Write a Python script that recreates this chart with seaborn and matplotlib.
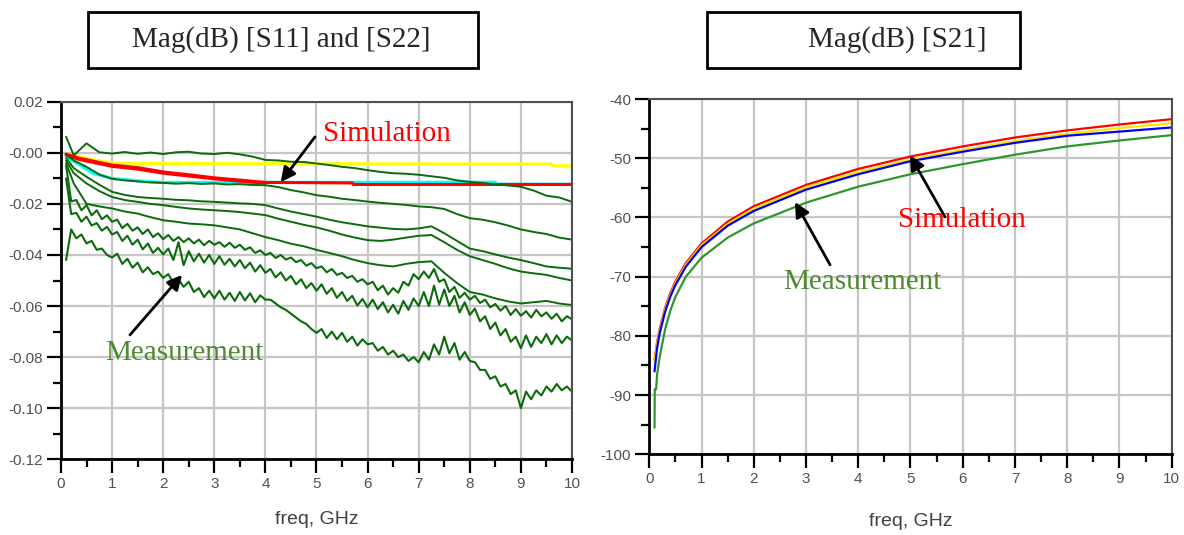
import matplotlib
matplotlib.use("Agg")
import matplotlib.pyplot as plt
from matplotlib.patches import Rectangle
from matplotlib.ticker import MultipleLocator
import seaborn as sns

# ---------------- left panel : Mag(dB) S11 / S22 ----------------
# sampling grids of the measured traces (GHz)
freq_coarse = [0.1] + [0.25 * i for i in range(1, 41)]
freq_fine = [round(0.1 * i, 1) for i in range(1, 101)]

meas_1 = [0.0063, -0.0010, 0.0037, 0.0002, -0.0003, 0.0003, -0.0004, 0.0001, -0.0005, 0.0002,
          0.0004, -0.0003, -0.0005, 0.0000, -0.0006, -0.0015, -0.0028, -0.0030, -0.0035, -0.0036,
          -0.0042, -0.0048, -0.0055, -0.0060, -0.0068, -0.0075, -0.0080, -0.0082, -0.0086, -0.0092,
          -0.0098, -0.0108, -0.0114, -0.0118, -0.0124, -0.0128, -0.0133, -0.0148, -0.0168, -0.0175,
          -0.0192]
meas_2 = [-0.0008, -0.0030, -0.0055, -0.0085, -0.0102, -0.0108, -0.0112, -0.0116, -0.0118, -0.0121,
          -0.0119, -0.0122, -0.0120, -0.0124, -0.0123, -0.0126, -0.0127, -0.0134, -0.0146, -0.0155,
          -0.0166, -0.0172, -0.0180, -0.0185, -0.0191, -0.0196, -0.0200, -0.0204, -0.0210, -0.0213,
          -0.0220, -0.0240, -0.0256, -0.0262, -0.0272, -0.0285, -0.0300, -0.0310, -0.0318, -0.0332,
          -0.0340]
meas_3 = [-0.0020, -0.0060, -0.0094, -0.0125, -0.0153, -0.0165, -0.0173, -0.0177, -0.0180, -0.0184,
          -0.0186, -0.0190, -0.0192, -0.0195, -0.0198, -0.0200, -0.0205, -0.0218, -0.0230, -0.0240,
          -0.0250, -0.0262, -0.0272, -0.0280, -0.0288, -0.0293, -0.0298, -0.0300, -0.0296, -0.0288,
          -0.0315, -0.0345, -0.0375, -0.0385, -0.0398, -0.0410, -0.0420, -0.0432, -0.0445, -0.0450,
          -0.0454]
meas_4 = [-0.0030, -0.0080, -0.0120, -0.0150, -0.0173, -0.0185, -0.0192, -0.0200, -0.0205, -0.0212,
          -0.0218, -0.0222, -0.0225, -0.0228, -0.0232, -0.0238, -0.0244, -0.0258, -0.0270, -0.0282,
          -0.0292, -0.0305, -0.0320, -0.0332, -0.0342, -0.0345, -0.0340, -0.0332, -0.0325, -0.0322,
          -0.0350, -0.0380, -0.0405, -0.0420, -0.0435, -0.0452, -0.0465, -0.0472, -0.0478, -0.0490,
          -0.0500]
meas_5 = [-0.0040, -0.0120, -0.0200, -0.0210, -0.0218, -0.0230, -0.0238, -0.0252, -0.0264, -0.0270,
          -0.0277, -0.0280, -0.0284, -0.0292, -0.0300, -0.0315, -0.0330, -0.0342, -0.0356, -0.0366,
          -0.0380, -0.0392, -0.0405, -0.0420, -0.0432, -0.0440, -0.0445, -0.0435, -0.0428, -0.0425,
          -0.0470, -0.0510, -0.0545, -0.0555, -0.0570, -0.0582, -0.0590, -0.0585, -0.0580, -0.0590,
          -0.0596]
meas_6 = [-0.0050, -0.0190, -0.0185, -0.0225, -0.0205, -0.0245, -0.0225, -0.0260, -0.0245, -0.0270,
          -0.0262, -0.0295, -0.0278, -0.0305, -0.0292, -0.0318, -0.0300, -0.0330, -0.0315, -0.0338,
          -0.0322, -0.0345, -0.0330, -0.0350, -0.0335, -0.0355, -0.0340, -0.0362, -0.0345, -0.0360,
          -0.0350, -0.0368, -0.0352, -0.0372, -0.0360, -0.0380, -0.0370, -0.0392, -0.0382, -0.0400,
          -0.0392, -0.0412, -0.0400, -0.0418, -0.0410, -0.0428, -0.0420, -0.0442, -0.0432, -0.0452,
          -0.0445, -0.0468, -0.0455, -0.0478, -0.0470, -0.0490, -0.0482, -0.0505, -0.0495, -0.0515,
          -0.0505, -0.0538, -0.0520, -0.0555, -0.0530, -0.0548, -0.0505, -0.0520, -0.0475, -0.0495,
          -0.0465, -0.0490, -0.0455, -0.0505, -0.0495, -0.0545, -0.0525, -0.0568, -0.0548, -0.0575,
          -0.0560, -0.0588, -0.0575, -0.0605, -0.0592, -0.0618, -0.0600, -0.0635, -0.0612, -0.0638,
          -0.0620, -0.0645, -0.0615, -0.0640, -0.0625, -0.0650, -0.0630, -0.0660, -0.0640, -0.0652]
meas_7 = [-0.0100, -0.0240, -0.0235, -0.0270, -0.0250, -0.0285, -0.0275, -0.0305, -0.0290, -0.0320,
          -0.0310, -0.0345, -0.0325, -0.0360, -0.0340, -0.0378, -0.0355, -0.0392, -0.0372, -0.0398,
          -0.0375, -0.0420, -0.0350, -0.0440, -0.0385, -0.0425, -0.0395, -0.0430, -0.0400, -0.0435,
          -0.0405, -0.0438, -0.0415, -0.0445, -0.0420, -0.0452, -0.0430, -0.0465, -0.0440, -0.0470,
          -0.0455, -0.0488, -0.0468, -0.0500, -0.0482, -0.0515, -0.0495, -0.0530, -0.0510, -0.0540,
          -0.0515, -0.0552, -0.0530, -0.0568, -0.0545, -0.0580, -0.0560, -0.0598, -0.0572, -0.0605,
          -0.0575, -0.0612, -0.0585, -0.0625, -0.0595, -0.0630, -0.0580, -0.0615, -0.0570, -0.0600,
          -0.0545, -0.0600, -0.0520, -0.0595, -0.0535, -0.0600, -0.0560, -0.0625, -0.0585, -0.0635,
          -0.0610, -0.0660, -0.0640, -0.0690, -0.0665, -0.0715, -0.0690, -0.0740, -0.0720, -0.0765,
          -0.0715, -0.0760, -0.0720, -0.0745, -0.0710, -0.0750, -0.0715, -0.0745, -0.0720, -0.0735]
meas_8 = [-0.0420, -0.0300, -0.0335, -0.0320, -0.0355, -0.0345, -0.0380, -0.0375, -0.0400, -0.0410,
          -0.0395, -0.0435, -0.0415, -0.0450, -0.0430, -0.0468, -0.0448, -0.0475, -0.0465, -0.0490,
          -0.0475, -0.0510, -0.0495, -0.0525, -0.0505, -0.0545, -0.0530, -0.0565, -0.0540, -0.0570,
          -0.0540, -0.0575, -0.0548, -0.0580, -0.0545, -0.0578, -0.0550, -0.0585, -0.0558, -0.0575,
          -0.0575, -0.0590, -0.0605, -0.0615, -0.0630, -0.0645, -0.0660, -0.0670, -0.0690, -0.0705,
          -0.0690, -0.0725, -0.0700, -0.0730, -0.0705, -0.0740, -0.0720, -0.0755, -0.0730, -0.0750,
          -0.0745, -0.0775, -0.0760, -0.0790, -0.0775, -0.0800, -0.0790, -0.0815, -0.0800, -0.0820,
          -0.0780, -0.0810, -0.0750, -0.0790, -0.0720, -0.0785, -0.0745, -0.0810, -0.0780, -0.0815,
          -0.0820, -0.0850, -0.0850, -0.0885, -0.0875, -0.0915, -0.0905, -0.0945, -0.0930, -0.1000,
          -0.0935, -0.0965, -0.0930, -0.0950, -0.0915, -0.0935, -0.0905, -0.0930, -0.0915, -0.0935]

sim_yellow_f = [0.1, 0.3, 0.6, 1.0, 2.0, 5.0, 9.6, 9.62, 10]
sim_yellow = [-0.0005, -0.0012, -0.0026, -0.0040, -0.0042, -0.0043, -0.0044, -0.0051, -0.0051]
sim_cyan_f = [0.15, 0.37, 0.63, 1.0, 1.5, 2.0, 3.4, 8.5, 8.52, 10]
sim_cyan = [-0.0022, -0.0048, -0.0081, -0.0100, -0.0110, -0.0116, -0.0116, -0.0115, -0.0123, -0.0123]
sim_red_f = [0.1, 0.37, 1.0, 1.5, 2.0, 2.5, 3.0, 3.5, 4.0, 5.7, 5.72, 10]
sim_red = [-0.0005, -0.0022, -0.0048, -0.0058, -0.0075, -0.0086, -0.0098, -0.0107, -0.0116,
           -0.0118, -0.0124, -0.0124]
sim_red2_f = [0.1, 0.37, 1.0, 1.5, 2.0, 2.5, 3.0, 3.5, 4.0]
sim_red2 = [-0.0009, -0.0027, -0.0053, -0.0064, -0.0080, -0.0091, -0.0102, -0.0111, -0.0119]

# ---------------- right panel : Mag(dB) S21 ----------------
freq_s21 = [0.1, 0.15, 0.2, 0.3, 0.4, 0.5, 0.7, 1, 1.5, 2, 3, 4, 5, 6, 7, 8, 9, 10]
s21_red = [-84.0, -81.0, -78.8, -75.3, -72.8, -70.8, -67.7, -64.4, -60.7, -58.1,
           -54.5, -51.8, -49.7, -48.0, -46.5, -45.3, -44.3, -43.4]
s21_yellow = [-84.3, -81.3, -79.1, -75.6, -73.1, -71.1, -68.0, -64.7, -61.1, -58.5,
              -54.9, -52.3, -50.2, -48.6, -47.1, -45.9, -44.9, -44.1]
s21_blue = [-86.0, -82.0, -79.5, -76.0, -73.4, -71.4, -68.3, -65.0, -61.4, -58.9,
            -55.3, -52.7, -50.5, -48.9, -47.4, -46.2, -45.5, -44.8]
freq_s21_meas = [0.1, 0.105, 0.13, 0.15, 0.2, 0.3, 0.4, 0.5, 0.7, 1, 1.5, 2, 3, 4, 5, 6, 7, 8, 9, 10]
s21_green = [-95.5, -89.0, -89.0, -86.5, -83.5, -79.0, -75.8, -73.4, -70.0, -66.8, -63.4, -61.0,
             -57.5, -54.8, -52.7, -51.0, -49.4, -48.0, -47.0, -46.1]

left_yticks = [0.02, 0.0, -0.02, -0.04, -0.06, -0.08, -0.10, -0.12]
left_ylabels = ["0.02", "-0.00", "-0.02", "-0.04", "-0.06", "-0.08", "-0.10", "-0.12"]
right_yticks = [-40, -50, -60, -70, -80, -90, -100]
right_ylabels = ["-40", "-50", "-60", "-70", "-80", "-90", "-100"]

sns.set_style("white")
plt.rcParams["font.family"] = ["Liberation Sans", "DejaVu Sans"]

fig = plt.figure(figsize=(11.84, 5.35), dpi=100)
ax1 = fig.add_axes([0.0515, 0.1415, 0.4316, 0.6684])
ax2 = fig.add_axes([0.5484, 0.1508, 0.4412, 0.6641])


def style_axes(ax, yticks, ylabels, yminor, xpad):
    ax.set_xlim(0, 10)
    ax.set_ylim(yticks[-1], yticks[0])
    ax.set_xticks(range(11))
    ax.set_xticklabels([str(i) for i in range(11)])
    ax.xaxis.set_minor_locator(MultipleLocator(0.5))
    ax.set_yticks(yticks)
    ax.set_yticklabels(ylabels)
    ax.yaxis.set_minor_locator(MultipleLocator(yminor))
    ax.grid(True, which="major", color="#c6c6c6", lw=1.6)
    ax.set_axisbelow(True)
    ax.tick_params(which="major", direction="out", length=10, width=1.6, color="black",
                   labelsize=11, labelcolor="#505050", pad=3, left=True, bottom=True)
    ax.tick_params(which="minor", direction="out", length=5.5, width=1.6, color="black",
                   left=True, bottom=True)
    for side in ["left", "bottom"]:
        ax.spines[side].set_color("black")
        ax.spines[side].set_linewidth(2)
    for side in ["top", "right"]:
        ax.spines[side].set_color("#505050")
        ax.spines[side].set_linewidth(1.5)
    ax.set_xlabel("freq, GHz", fontsize=14, color="#404040", labelpad=xpad)
    ax.set_ylabel("")


# left panel lines: simulation first, measurement drawn over
sns.lineplot(x=sim_yellow_f, y=sim_yellow, ax=ax1, color="#ffff00", lw=2.2, estimator=None, sort=False)
sns.lineplot(x=sim_cyan_f, y=sim_cyan, ax=ax1, color="#00ffff", lw=2.2, estimator=None, sort=False)
sns.lineplot(x=sim_red2_f, y=sim_red2, ax=ax1, color="#ff0000", lw=2.2, estimator=None, sort=False)
sns.lineplot(x=sim_red_f, y=sim_red, ax=ax1, color="#ff0000", lw=2.2, estimator=None, sort=False)
for trace in [meas_1, meas_2, meas_3, meas_4, meas_5]:
    sns.lineplot(x=freq_coarse, y=trace, ax=ax1, color="#0b6a0b", lw=1.4, estimator=None, sort=False)
for trace in [meas_6, meas_7, meas_8]:
    sns.lineplot(x=freq_fine, y=trace, ax=ax1, color="#0b6a0b", lw=1.5, estimator=None, sort=False)
style_axes(ax1, left_yticks, left_ylabels, 0.01, 14)

# right panel lines
sns.lineplot(x=freq_s21_meas, y=s21_green, ax=ax2, color="#2f962f", lw=1.6, estimator=None, sort=False)
sns.lineplot(x=freq_s21, y=s21_red, ax=ax2, color="#ff0000", lw=1.6, estimator=None, sort=False)
sns.lineplot(x=freq_s21, y=s21_yellow, ax=ax2, color="#ffe600", lw=1.6, estimator=None, sort=False)
sns.lineplot(x=freq_s21, y=s21_blue, ax=ax2, color="#0000ff", lw=1.6, estimator=None, sort=False)
style_axes(ax2, right_yticks, right_ylabels, 5, 19)

# annotations
arrow = dict(arrowstyle="-|>", color="black", lw=2, mutation_scale=22, shrinkA=0, shrinkB=0)
serif = ["Liberation Serif", "DejaVu Serif"]
ax1.annotate("", xy=(4.3, -0.0115), xytext=(4.97, 0.0062), arrowprops=arrow)
ax1.text(6.38, 0.0074, "Simulation", color="#ff0000", fontsize=21, family=serif, ha="center", va="center")
ax1.annotate("", xy=(2.37, -0.0478), xytext=(1.35, -0.0713), arrowprops=arrow)
ax1.text(2.41, -0.0784, "Measurement", color="#4e8a30", fontsize=21, family=serif, ha="center", va="center")

ax2.annotate("", xy=(2.79, -57.4), xytext=(3.46, -68.0), arrowprops=arrow)
ax2.text(4.07, -70.9, "Measurement", color="#4e8a30", fontsize=21, family=serif, ha="center", va="center")
ax2.annotate("", xy=(4.99, -49.5), xytext=(5.66, -59.9), arrowprops=arrow)
ax2.text(5.98, -60.4, "Simulation", color="#ff0000", fontsize=21, family=serif, ha="center", va="center")

# boxed titles
W, H = 1184, 535
for (x0, x1, tx, label) in [(88, 478, 281, "Mag(dB) [S11] and [S22]"),
                            (707, 1020, 897, "Mag(dB) [S21]")]:
    fig.add_artist(Rectangle((x0 / W, 1 - 68 / H), (x1 - x0) / W, 56 / H,
                             transform=fig.transFigure, fill=False, ec="black", lw=2))
    fig.text(tx / W, 1 - 40 / H, label, fontsize=21, family=serif, ha="center", va="center")

fig.savefig("out.png", dpi=100)
